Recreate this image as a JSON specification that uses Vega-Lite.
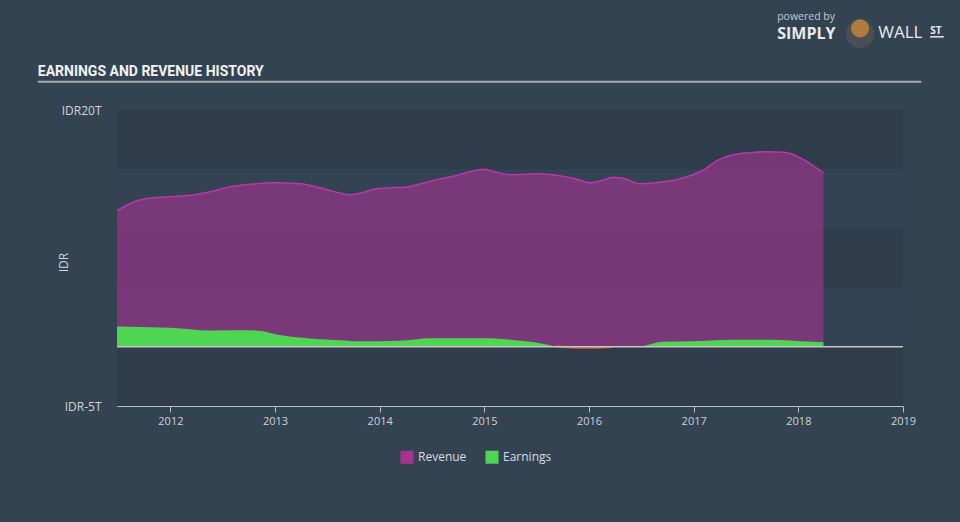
{
  "$schema": "https://vega.github.io/schema/vega-lite/v6.json",
  "width": 786,
  "height": 296,
  "autosize": "none",
  "padding": {"left": 117, "top": 110, "right": 57, "bottom": 116},
  "background": "#344351",
  "config": {
    "view": {"fill": "#334353", "stroke": null},
    "font": "Open Sans"
  },
  "datasets": {
    "series": [
      {"year": 2011.49, "value": 11.49, "series": "Revenue"},
      {"year": 2011.61, "value": 12.08, "series": "Revenue"},
      {"year": 2011.76, "value": 12.5, "series": "Revenue"},
      {"year": 2012.0, "value": 12.67, "series": "Revenue"},
      {"year": 2012.23, "value": 12.84, "series": "Revenue"},
      {"year": 2012.38, "value": 13.09, "series": "Revenue"},
      {"year": 2012.57, "value": 13.51, "series": "Revenue"},
      {"year": 2012.76, "value": 13.72, "series": "Revenue"},
      {"year": 2013.0, "value": 13.85, "series": "Revenue"},
      {"year": 2013.24, "value": 13.77, "series": "Revenue"},
      {"year": 2013.43, "value": 13.43, "series": "Revenue"},
      {"year": 2013.57, "value": 13.09, "series": "Revenue"},
      {"year": 2013.71, "value": 12.84, "series": "Revenue"},
      {"year": 2013.83, "value": 13.0, "series": "Revenue"},
      {"year": 2013.96, "value": 13.34, "series": "Revenue"},
      {"year": 2014.1, "value": 13.43, "series": "Revenue"},
      {"year": 2014.24, "value": 13.47, "series": "Revenue"},
      {"year": 2014.39, "value": 13.77, "series": "Revenue"},
      {"year": 2014.53, "value": 14.1, "series": "Revenue"},
      {"year": 2014.72, "value": 14.44, "series": "Revenue"},
      {"year": 2014.86, "value": 14.78, "series": "Revenue"},
      {"year": 2014.99, "value": 14.99, "series": "Revenue"},
      {"year": 2015.1, "value": 14.78, "series": "Revenue"},
      {"year": 2015.25, "value": 14.53, "series": "Revenue"},
      {"year": 2015.53, "value": 14.61, "series": "Revenue"},
      {"year": 2015.72, "value": 14.44, "series": "Revenue"},
      {"year": 2015.87, "value": 14.19, "series": "Revenue"},
      {"year": 2016.01, "value": 13.85, "series": "Revenue"},
      {"year": 2016.11, "value": 14.02, "series": "Revenue"},
      {"year": 2016.23, "value": 14.32, "series": "Revenue"},
      {"year": 2016.34, "value": 14.19, "series": "Revenue"},
      {"year": 2016.49, "value": 13.77, "series": "Revenue"},
      {"year": 2016.68, "value": 13.89, "series": "Revenue"},
      {"year": 2016.87, "value": 14.19, "series": "Revenue"},
      {"year": 2016.99, "value": 14.53, "series": "Revenue"},
      {"year": 2017.11, "value": 15.03, "series": "Revenue"},
      {"year": 2017.22, "value": 15.71, "series": "Revenue"},
      {"year": 2017.38, "value": 16.22, "series": "Revenue"},
      {"year": 2017.54, "value": 16.39, "series": "Revenue"},
      {"year": 2017.7, "value": 16.47, "series": "Revenue"},
      {"year": 2017.86, "value": 16.43, "series": "Revenue"},
      {"year": 2018.02, "value": 15.96, "series": "Revenue"},
      {"year": 2018.13, "value": 15.37, "series": "Revenue"},
      {"year": 2018.24, "value": 14.7, "series": "Revenue"},
      {"year": 2011.49, "value": 1.71, "series": "Earnings"},
      {"year": 2011.8, "value": 1.65, "series": "Earnings"},
      {"year": 2012.0, "value": 1.6, "series": "Earnings"},
      {"year": 2012.38, "value": 1.37, "series": "Earnings"},
      {"year": 2012.76, "value": 1.39, "series": "Earnings"},
      {"year": 2012.87, "value": 1.33, "series": "Earnings"},
      {"year": 2013.0, "value": 1.07, "series": "Earnings"},
      {"year": 2013.24, "value": 0.79, "series": "Earnings"},
      {"year": 2013.62, "value": 0.55, "series": "Earnings"},
      {"year": 2013.81, "value": 0.46, "series": "Earnings"},
      {"year": 2014.19, "value": 0.51, "series": "Earnings"},
      {"year": 2014.48, "value": 0.72, "series": "Earnings"},
      {"year": 2015.05, "value": 0.72, "series": "Earnings"},
      {"year": 2015.25, "value": 0.59, "series": "Earnings"},
      {"year": 2015.53, "value": 0.3, "series": "Earnings"},
      {"year": 2015.68, "value": 0.04, "series": "Earnings"},
      {"year": 2015.87, "value": -0.08, "series": "Earnings"},
      {"year": 2016.06, "value": -0.08, "series": "Earnings"},
      {"year": 2016.22, "value": 0.0, "series": "Earnings"},
      {"year": 2016.49, "value": 0.04, "series": "Earnings"},
      {"year": 2016.7, "value": 0.42, "series": "Earnings"},
      {"year": 2016.97, "value": 0.46, "series": "Earnings"},
      {"year": 2017.35, "value": 0.59, "series": "Earnings"},
      {"year": 2017.73, "value": 0.59, "series": "Earnings"},
      {"year": 2018.02, "value": 0.46, "series": "Earnings"},
      {"year": 2018.24, "value": 0.38, "series": "Earnings"}
    ],
    "bands": [
      {"lo": 15, "hi": 20},
      {"lo": 5, "hi": 10},
      {"lo": -5, "hi": 0}
    ],
    "one": [{}]
  },
  "layer": [
    {
      "data": {"name": "bands"},
      "mark": {"type": "rect", "color": "#2e3c4b"},
      "encoding": {
        "y": {
          "field": "lo",
          "type": "quantitative",
          "scale": {"domain": [-5, 20], "nice": false, "zero": false},
          "axis": {
            "values": [20, -5],
            "labelExpr": "'IDR' + datum.value + 'T'",
            "domain": false,
            "ticks": false,
            "grid": false,
            "labelPadding": 16,
            "labelFontSize": 12,
            "labelColor": "#d0d5da",
            "title": "IDR",
            "titleColor": "#d0d5da",
            "titleFontSize": 12,
            "titleFontWeight": "normal",
            "titleX": -54,
            "titleY": 152,
            "titleAngle": 270,
            "titleAlign": "center",
            "titleBaseline": "middle"
          }
        },
        "y2": {"field": "hi"}
      }
    },
    {
      "data": {"name": "series"},
      "transform": [{"filter": "datum.series === 'Revenue'"}],
      "mark": {"type": "area", "interpolate": "monotone", "fillOpacity": 0.62},
      "encoding": {
        "x": {
          "field": "year",
          "type": "quantitative",
          "scale": {"domain": [2011.49, 2019], "nice": false, "zero": false},
          "axis": {
            "values": [2012, 2013, 2014, 2015, 2016, 2017, 2018, 2019],
            "format": "d",
            "title": null,
            "grid": false,
            "labelColor": "#cdd2d8",
            "labelFontSize": 11,
            "labelPadding": 3,
            "domainColor": "#b8c0c8",
            "tickColor": "#b8c0c8",
            "tickSize": 6,
            "labelFlush": false
          }
        },
        "y": {"field": "value", "type": "quantitative", "stack": null},
        "y2": {"datum": 0},
        "color": {
          "field": "series",
          "type": "nominal",
          "scale": {"domain": ["Revenue", "Earnings"], "range": ["#a53490", "#4fd454"]},
          "legend": {
            "orient": "none",
            "legendX": 283,
            "legendY": 340,
            "direction": "horizontal",
            "title": null,
            "symbolType": "square",
            "symbolSize": 170,
            "symbolOpacity": 1,
            "symbolStrokeWidth": 0,
            "labelColor": "#d8dce0",
            "labelFontSize": 12,
            "columnPadding": 18
          }
        }
      }
    },
    {
      "data": {"name": "series"},
      "transform": [{"filter": "datum.series === 'Revenue'"}],
      "mark": {"type": "line", "interpolate": "monotone", "color": "#b53aa8", "strokeWidth": 1.5},
      "encoding": {
        "x": {"field": "year", "type": "quantitative"},
        "y": {"field": "value", "type": "quantitative"}
      }
    },
    {
      "data": {"name": "series"},
      "transform": [{"filter": "datum.series === 'Earnings'"}],
      "mark": {"type": "area", "interpolate": "monotone", "opacity": 1},
      "encoding": {
        "x": {"field": "year", "type": "quantitative"},
        "y": {"field": "value", "type": "quantitative", "stack": null},
        "y2": {"datum": 0},
        "color": {"field": "series", "type": "nominal"}
      }
    },
    {
      "data": {"name": "series"},
      "transform": [{"filter": "datum.series === 'Earnings' && datum.year >= 2015.6 && datum.year <= 2016.3"}],
      "mark": {"type": "line", "interpolate": "monotone", "color": "#d9533c", "strokeWidth": 2},
      "encoding": {
        "x": {"field": "year", "type": "quantitative"},
        "y": {"field": "value", "type": "quantitative"}
      }
    },
    {
      "data": {"name": "one"},
      "mark": {"type": "rule", "color": "#c5c8c2", "strokeWidth": 1.5},
      "encoding": {"y": {"datum": 0}}
    },
    {
      "data": {"name": "one"},
      "mark": {"type": "rule", "color": "#a3abb4", "strokeWidth": 2},
      "encoding": {
        "x": {"datum": 2010.733},
        "x2": {"datum": 2019.175},
        "y": {"datum": 22.38}
      }
    },
    {
      "data": {"name": "one"},
      "mark": {"type": "text", "align": "left", "baseline": "alphabetic", "fontSize": 14, "fontWeight": "bold", "color": "#f2f2f2", "font": "Roboto"},
      "encoding": {
        "x": {"datum": 2010.733},
        "y": {"datum": 22.89},
        "text": {"value": "EARNINGS AND REVENUE HISTORY"}
      }
    },
    {
      "data": {"name": "one"},
      "mark": {"type": "text", "align": "left", "baseline": "middle", "fontSize": 10.5, "color": "#c3c9cf", "font": "Open Sans"},
      "encoding": {
        "x": {"datum": 2017.798},
        "y": {"datum": 27.83},
        "text": {"value": "powered by"}
      }
    },
    {
      "data": {"name": "one"},
      "mark": {"type": "text", "align": "left", "baseline": "middle", "fontSize": 16, "fontWeight": "bold", "color": "#e8eaec", "font": "Open Sans"},
      "encoding": {
        "x": {"datum": 2017.798},
        "y": {"datum": 26.45},
        "text": {"value": "SIMPLY"}
      }
    },
    {
      "data": {"name": "one"},
      "mark": {"type": "point", "filled": true, "shape": "circle", "size": 800, "color": "#4b4f55", "opacity": 1},
      "encoding": {
        "x": {"datum": 2018.59},
        "y": {"datum": 26.45}
      }
    },
    {
      "data": {"name": "one"},
      "mark": {"type": "point", "filled": true, "shape": "circle", "size": 330, "color": "#b07c3c", "opacity": 1},
      "encoding": {
        "x": {"datum": 2018.59},
        "y": {"datum": 26.9}
      }
    },
    {
      "data": {"name": "one"},
      "mark": {"type": "text", "align": "left", "baseline": "middle", "fontSize": 17, "fontWeight": "normal", "color": "#e8eaec", "font": "Open Sans"},
      "encoding": {
        "x": {"datum": 2018.764},
        "y": {"datum": 26.52},
        "text": {"value": "WALL"}
      }
    },
    {
      "data": {"name": "one"},
      "mark": {"type": "text", "align": "left", "baseline": "middle", "fontSize": 10, "fontWeight": "bold", "color": "#e8eaec", "font": "Open Sans"},
      "encoding": {
        "x": {"datum": 2019.26},
        "y": {"datum": 26.69},
        "text": {"value": "ST"}
      }
    },
    {
      "data": {"name": "one"},
      "mark": {"type": "rule", "color": "#e8eaec", "strokeWidth": 1.5},
      "encoding": {
        "x": {"datum": 2019.26},
        "x2": {"datum": 2019.39},
        "y": {"datum": 26.18}
      }
    }
  ]
}
